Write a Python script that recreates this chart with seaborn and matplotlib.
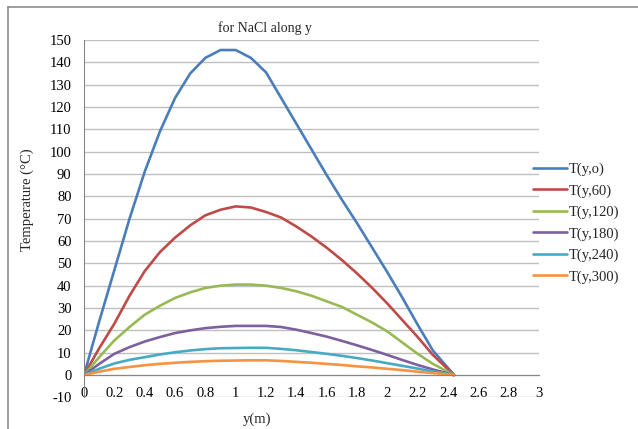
import numpy as np
import pandas as pd
import seaborn as sns
import matplotlib.pyplot as plt
from matplotlib.lines import Line2D

# position along y (m)
y_m = [0, 0.1, 0.2, 0.3, 0.4, 0.5, 0.6, 0.7, 0.8, 0.9, 1.0, 1.1, 1.2,
       1.3, 1.4, 1.5, 1.6, 1.7, 1.8, 1.9, 2.0, 2.1, 2.2, 2.3, 2.44]

# temperature (C), one list per time
t_0 = [0, 24, 47, 70, 91, 109, 124, 135, 142, 145.5, 145.5, 142, 135.5,
       124, 112.5, 101, 89.5, 78.5, 68, 57, 46, 34.5, 22.5, 11, 0]
t_60 = [0, 12, 23, 35.5, 46.5, 55, 61.5, 67, 71.5, 74, 75.5, 75, 73,
        70.5, 66.5, 62, 57, 51.5, 45.5, 39, 32, 24.5, 17, 9, 0]
t_120 = [0, 8, 15.5, 21.5, 27, 31, 34.5, 37, 39, 40, 40.5, 40.5, 40,
         39, 37.5, 35.5, 33, 30.5, 27, 23.5, 19.5, 14.5, 9.5, 5, 0]
t_180 = [0, 5, 9.5, 12.5, 15, 17, 18.8, 20, 21, 21.6, 22, 22, 22,
         21.5, 20.3, 18.8, 17.2, 15.3, 13.3, 11.2, 9, 6.7, 4.5, 2.5, 0]
t_240 = [0, 2.8, 5.2, 6.8, 8, 9.2, 10.2, 11, 11.6, 12, 12.1, 12.2, 12.2,
         11.7, 11.1, 10.3, 9.5, 8.6, 7.6, 6.5, 5.3, 4.1, 2.9, 1.6, 0]
t_300 = [0, 1.5, 2.8, 3.6, 4.4, 5, 5.5, 5.9, 6.2, 6.4, 6.5, 6.6, 6.6,
         6.3, 5.9, 5.5, 5, 4.5, 3.9, 3.4, 2.8, 2.2, 1.5, 0.9, 0]

series = ["T(y,o)", "T(y,60)", "T(y,120)", "T(y,180)", "T(y,240)", "T(y,300)"]
colors = ["#4A7EBB", "#BE4B48", "#98B954", "#7D60A0", "#46AAC5", "#F69240"]

x_ticks = np.arange(0, 3.01, 0.2)
y_ticks = np.arange(-10, 151, 10)

values = [t_0, t_60, t_120, t_180, t_240, t_300]
df = pd.DataFrame({
    "y": y_m * len(series),
    "T": sum(values, []),
    "series": [s for s in series for _ in y_m],
})

sns.set_style("white")
plt.rcParams["font.family"] = ["Liberation Serif", "DejaVu Serif"]
plt.rcParams["axes.unicode_minus"] = False

fig = plt.figure(figsize=(6.38, 4.29), dpi=100)
ax = fig.add_axes([0.1317, 0.0737, 0.7132, 0.8331])

sns.lineplot(data=df, x="y", y="T", hue="series", hue_order=series,
             palette=colors, linewidth=1.9, ax=ax, sort=False)

ax.set_xlim(0, 3)
ax.set_ylim(-10, 150)
ax.set_yticks(y_ticks)
ax.set_xticks(x_ticks)
ax.set_xticklabels([f"{v:g}" for v in np.round(x_ticks, 1)])
ax.grid(axis="y", color="#BFBFBF", linewidth=1.0)
ax.set_axisbelow(True)

for s in ["top", "right"]:
    ax.spines[s].set_visible(False)
ax.spines["bottom"].set_position(("data", 0))
ax.spines["bottom"].set_color("#868686")
ax.spines["left"].set_color("#868686")
ax.tick_params(axis="both", colors="#868686", labelcolor="black",
               labelsize=10.5, direction="out", length=3, width=1)
ax.tick_params(axis="x", pad=5.5)
ax.tick_params(axis="y", pad=6)

ax.set_xlabel("y(m)", fontsize=10.5)
ax.xaxis.set_label_coords(0.38, -0.042)
ax.set_ylabel("Temperature (°C)", fontsize=10.5)
ax.yaxis.set_label_coords(-0.11, 0.552)
ax.set_title("for NaCl along y", fontsize=10, x=0.398, y=1.0)

handles, labels = ax.get_legend_handles_labels()
ax.legend(handles, labels, loc="upper left", bbox_to_anchor=(0.8354, 0.621),
          bbox_transform=fig.transFigure, frameon=False, fontsize=10.5,
          handlelength=2.33, handletextpad=0.15, labelspacing=0.55,
          borderpad=0, borderaxespad=0)

# outer chart frame (top and left edges visible in the crop)
fig.add_artist(Line2D([8 / 638, 1], [1 - 6.5 / 429] * 2, color="#8C8C8C",
                      linewidth=1.2, transform=fig.transFigure))
fig.add_artist(Line2D([8 / 638] * 2, [0, 1 - 6.5 / 429], color="#8C8C8C",
                      linewidth=1.2, transform=fig.transFigure))

fig.savefig("out.png", dpi=100)
